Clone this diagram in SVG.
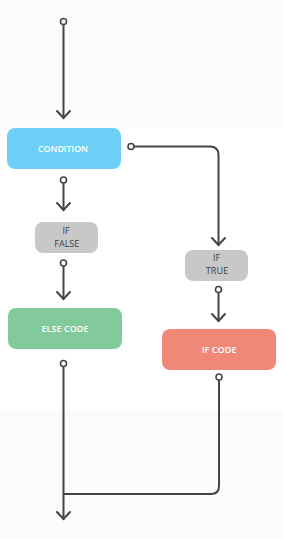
<svg xmlns="http://www.w3.org/2000/svg" width="283" height="539" viewBox="0 0 283 539">
<defs>
<style>
.bg{fill:#fcfbfa}
.ln{fill:none;stroke:#444;stroke-width:2;stroke-linecap:round;stroke-linejoin:miter}
.dot{fill:#fff;stroke:#444;stroke-width:1.6}
.lbl{font-family:"Open Sans","DejaVu Sans",sans-serif;font-size:9.2px;font-weight:600;fill:#fff;text-anchor:middle}
.glbl{font-family:"Open Sans","DejaVu Sans",sans-serif;font-size:9px;fill:#3f3f3f;text-anchor:middle}
</style>
</defs>
<rect x="0" y="0" width="283" height="539" fill="#fff"/>
<rect class="bg" x="0" y="0" width="283" height="127.5"/>
<rect class="bg" x="0" y="410" width="283" height="129"/>
<g id="connectors">
<path class="ln" d="M63.5 24.5 V118"/>
<path class="ln" d="M57 111 L63.5 118 L70 111"/>
<path class="ln" d="M134 146.5 H210 Q218.5 146.5 218.5 155 V245"/>
<path class="ln" d="M212 238 L218.5 245 L225 238"/>
<path class="ln" d="M63.5 183 V210"/>
<path class="ln" d="M57 203 L63.5 210 L70 203"/>
<path class="ln" d="M63.5 266 V299"/>
<path class="ln" d="M57 292 L63.5 299 L70 292"/>
<path class="ln" d="M218.5 292.5 V321"/>
<path class="ln" d="M212 314 L218.5 321 L225 314"/>
<path class="ln" d="M63.5 366.5 V519"/>
<path class="ln" d="M57 512 L63.5 519 L70 512"/>
<path class="ln" d="M219 380 V486 Q219 494 211 494 H64"/>
<circle class="dot" cx="63.5" cy="21.5" r="3"/>
<circle class="dot" cx="131" cy="146.5" r="3"/>
<circle class="dot" cx="63.5" cy="180" r="3"/>
<circle class="dot" cx="63.5" cy="263" r="3"/>
<circle class="dot" cx="218.5" cy="289.5" r="3"/>
<circle class="dot" cx="63.5" cy="363.5" r="3"/>
<circle class="dot" cx="219" cy="377" r="3"/>
</g>
<g id="condition">
<rect x="7" y="128" width="114" height="41" rx="8" fill="#6dcff6"/>
<text class="lbl" x="63" y="151.8" textLength="50" lengthAdjust="spacingAndGlyphs">CONDITION</text>
</g>
<g id="if-false">
<rect x="35" y="222" width="63" height="31" rx="8" fill="#c8c8c8"/>
<text class="glbl" x="66" y="234.3">IF</text>
<text class="glbl" x="66.8" y="246.6" textLength="25" lengthAdjust="spacing">FALSE</text>
</g>
<g id="else-code">
<rect x="8" y="308" width="114" height="41" rx="8" fill="#82ca9c"/>
<text class="lbl" x="65" y="332" textLength="47" lengthAdjust="spacingAndGlyphs">ELSE CODE</text>
</g>
<g id="if-true">
<rect x="185" y="250" width="63" height="31" rx="8" fill="#c8c8c8"/>
<text class="glbl" x="216.5" y="261.3">IF</text>
<text class="glbl" x="217" y="273.8" textLength="22.5" lengthAdjust="spacing">TRUE</text>
</g>
<g id="if-code">
<rect x="162" y="329" width="114" height="41" rx="8" fill="#f08877"/>
<text class="lbl" x="219.2" y="352.7" textLength="35" lengthAdjust="spacingAndGlyphs">IF CODE</text>
</g>
</svg>
